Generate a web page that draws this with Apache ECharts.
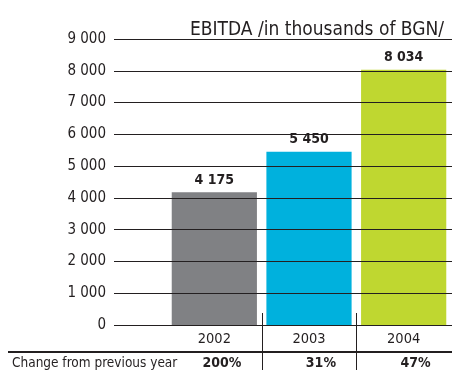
<!DOCTYPE html>
<html><head><meta charset="utf-8">
<script src="https://cdn.jsdelivr.net/npm/echarts@6/dist/echarts.min.js"></script>
<style>html,body{margin:0;padding:0;background:#fff}#c{width:452px;height:370px}</style>
</head><body><div id="c"></div>
<script>
var categories = ['2002', '2003', '2004'];
var ebitda = [4175, 5450, 8034];
var changes = ['200%', '31%', '47%'];
var barColors = ['#808184', '#00b1dd', '#bfd730'];
var yTicks = [0, 1000, 2000, 3000, 4000, 5000, 6000, 7000, 8000, 9000];
var titleText = 'EBITDA /in thousands of BGN/';
var rowLabel = 'Change from previous year';

var FONT = "'Liberation Sans Narrow', 'DejaVu Sans Condensed', 'Arial Narrow', sans-serif";
var INK = '#231f20';
function fmt(v) { return String(v).replace(/\B(?=(\d{3})+(?!\d))/g, ' '); }

var chart = echarts.init(document.getElementById('c'), null, {renderer: 'canvas'});
var option = {
  animation: false,
  textStyle: {fontFamily: FONT},
  title: {text: titleText, right: 3, top: 16,
    textStyle: {fontFamily: FONT, fontSize: 19, fontWeight: 'normal', color: INK}},
  grid: [
    {left: 114, right: 0, top: 39, bottom: 45},
    {left: 167, right: 1, top: 39, bottom: 45}
  ],
  xAxis: [
    {type: 'value', gridIndex: 0, show: false, min: 0, max: 1},
    {type: 'category', gridIndex: 1, data: categories,
      axisLine: {show: false}, axisTick: {show: false},
      axisLabel: {margin: 7, fontSize: 14.5, color: INK, fontFamily: FONT}}
  ],
  yAxis: [
    {type: 'value', gridIndex: 0, min: yTicks[0], max: yTicks[yTicks.length - 1], interval: yTicks[1] - yTicks[0], z: 10,
      axisLine: {show: false}, axisTick: {show: false},
      axisLabel: {margin: 8, fontSize: 15, color: INK, fontFamily: FONT, formatter: fmt},
      splitLine: {show: true, lineStyle: {color: '#231f20', width: 1}}},
    {type: 'value', gridIndex: 1, min: yTicks[0], max: yTicks[yTicks.length - 1], show: false, splitLine: {show: false}}
  ],
  series: [{
    type: 'bar', xAxisIndex: 1, yAxisIndex: 1,
    barCategoryGap: '10%',
    data: ebitda.map(function (v, i) { return {value: v, itemStyle: {color: barColors[i]}}; }),
    label: {show: true, position: 'top', distance: 5, fontSize: 14, fontWeight: 'bold', color: INK,
      fontFamily: FONT, formatter: function (p) { return fmt(p.value); }}
  }]
};
chart.setOption(option);

// bottom table: separators and change row, positioned from the category axis
var g = [];
var c0 = chart.convertToPixel({xAxisIndex: 1}, categories[0]);
var c1 = chart.convertToPixel({xAxisIndex: 1}, categories[1]);
var band = c1 - c0;
var y0 = chart.convertToPixel({yAxisIndex: 1}, 0);
g.push({type: 'line', shape: {x1: 8, y1: y0 + 27, x2: 452, y2: y0 + 27}, style: {stroke: INK, lineWidth: 2}});
for (var i = 1; i < categories.length; i++) {
  var x = Math.round(chart.convertToPixel({xAxisIndex: 1}, categories[i]) - band / 2) + 0.5;
  g.push({type: 'line', shape: {x1: x, y1: y0 - 12, x2: x, y2: 370}, style: {stroke: INK, lineWidth: 1}});
}
g.push({type: 'text', x: 12, y: y0 + 31, style: {text: rowLabel, font: '13.5px ' + FONT, fill: INK, textVerticalAlign: 'top'}});
changes.forEach(function (t, i) {
  var cx = chart.convertToPixel({xAxisIndex: 1}, categories[i]);
  g.push({type: 'text', x: cx + 27, y: y0 + 31, style: {text: t, font: 'bold 14px ' + FONT, fill: INK, textAlign: 'right', textVerticalAlign: 'top'}});
});
chart.setOption({graphic: g});
</script></body></html>
